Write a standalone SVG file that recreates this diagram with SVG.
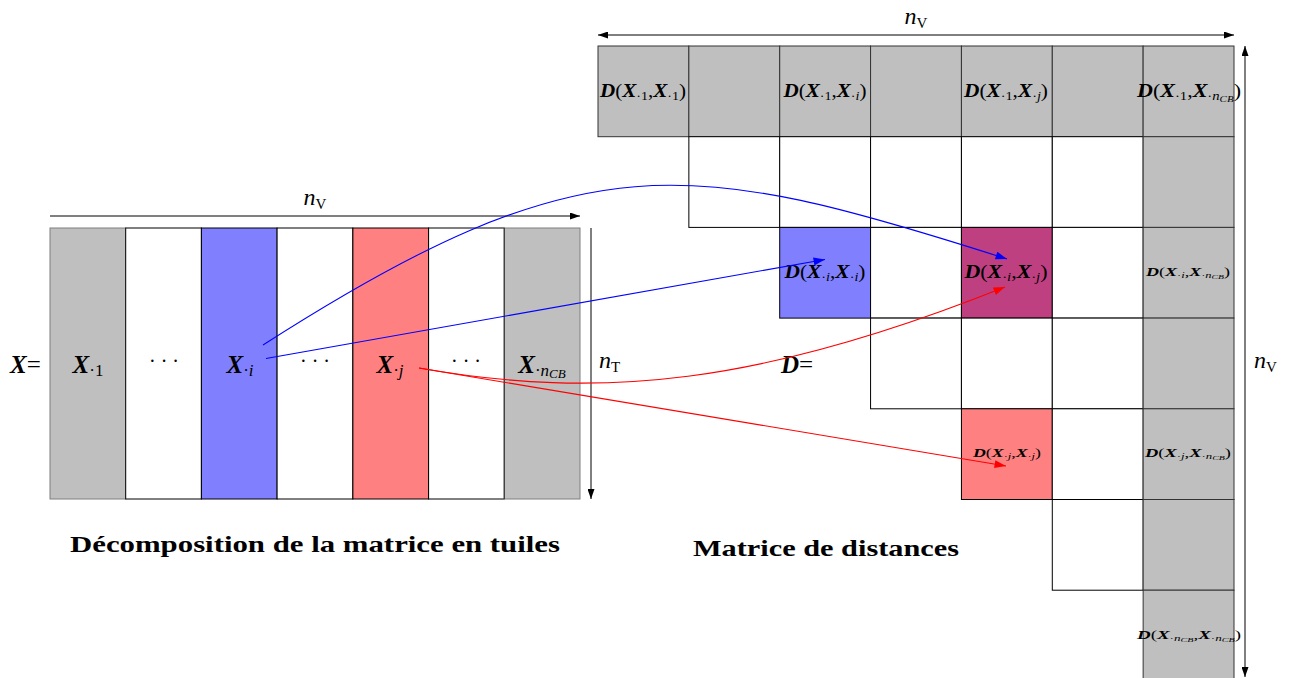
<svg xmlns="http://www.w3.org/2000/svg" width="1295" height="678" viewBox="0 0 1295 678">
<style>
text { font-family: "Liberation Serif", "DejaVu Serif", serif; fill: #000; }
.b { font-weight: bold; font-style: italic; }
.it { font-style: italic; }
.cap { font-weight: bold; font-size: 24px; }
.g { fill: #BFBFBF; stroke: #7f7f7f; stroke-width: 1; }
.w { fill: #FFFFFF; stroke: #000; stroke-width: 1; }
.bl { fill: #8080FF; stroke: #000; stroke-width: 1; }
.rd { fill: #FF8080; stroke: #000; stroke-width: 1; }
.pu { fill: #BF4080; stroke: #000; stroke-width: 1; }
.dg { fill: #BFBFBF; stroke: #333; stroke-width: 1; }
.dim { stroke: #000; stroke-width: 1; fill: none; }
.cb { stroke: #0000FF; stroke-width: 1.1; fill: none; }
.cr { stroke: #FF0000; stroke-width: 1.1; fill: none; }
</style>
<defs>
<marker id="ak" viewBox="0 0 10 7" refX="10" refY="3.5" markerUnits="userSpaceOnUse" markerWidth="10" markerHeight="7" orient="auto-start-reverse"><path d="M0,0 L10,3.5 L0,7 z" fill="#000"/></marker>
<marker id="ab" viewBox="0 0 10 7" refX="10" refY="3.5" markerUnits="userSpaceOnUse" markerWidth="12" markerHeight="8" orient="auto"><path d="M0,0 L10,3.5 L0,7 z" fill="#0000FF"/></marker>
<marker id="ar" viewBox="0 0 10 7" refX="10" refY="3.5" markerUnits="userSpaceOnUse" markerWidth="12" markerHeight="8" orient="auto"><path d="M0,0 L10,3.5 L0,7 z" fill="#FF0000"/></marker>
</defs>

<!-- Left matrix X -->
<g id="matrixX">
  <g id="X-col1"><rect class="g" x="50" y="228" width="75.7" height="271"/>
    <text x="88" y="373" font-size="25" text-anchor="middle"><tspan class="b">X</tspan><tspan font-size="17" dy="3">·1</tspan></text></g>
  <g id="X-dots1"><rect class="w" x="125.7" y="228" width="75.7" height="271"/>
    <text x="164" y="368" font-size="20" text-anchor="middle">· · ·</text></g>
  <g id="X-coli"><rect class="bl" x="201.4" y="228" width="75.7" height="271"/>
    <text x="240" y="373" font-size="25" text-anchor="middle"><tspan class="b">X</tspan><tspan font-size="17" dy="3">·<tspan class="it">i</tspan></tspan></text></g>
  <g id="X-dots2"><rect class="w" x="277.1" y="228" width="75.7" height="271"/>
    <text x="315" y="368" font-size="20" text-anchor="middle">· · ·</text></g>
  <g id="X-colj"><rect class="rd" x="352.9" y="228" width="75.7" height="271"/>
    <text x="390" y="373" font-size="25" text-anchor="middle"><tspan class="b">X</tspan><tspan font-size="17" dy="3">·<tspan class="it">j</tspan></tspan></text></g>
  <g id="X-dots3"><rect class="w" x="428.6" y="228" width="75.7" height="271"/>
    <text x="466" y="368" font-size="20" text-anchor="middle">· · ·</text></g>
  <g id="X-colncb"><rect class="g" x="504.3" y="228" width="75.7" height="271"/>
    <text x="542" y="373" font-size="25" text-anchor="middle"><tspan class="b">X</tspan><tspan font-size="17" dy="3">·<tspan class="it">n<tspan font-size="13" dy="2">CB</tspan></tspan></tspan></text></g>
  <line x1="504.3" y1="228" x2="504.3" y2="499" stroke="#333"/>
  <g id="X-label"><text x="10" y="373" font-size="25"><tspan class="b">X</tspan>=</text></g>
</g>

<!-- Dimension markers for X -->
<g id="dimX">
  <line class="dim" x1="50" y1="216" x2="580" y2="216" marker-end="url(#ak)"/>
  <text x="315" y="205" font-size="24" text-anchor="middle"><tspan class="it">n</tspan><tspan font-size="15" dy="4">V</tspan></text>
  <line class="dim" x1="591" y1="228" x2="591" y2="499" marker-end="url(#ak)"/>
  <text x="599" y="368" font-size="24"><tspan class="it">n</tspan><tspan font-size="15" dy="4">T</tspan></text>
</g>

<!-- Distance matrix D -->
<g id="matrixD">
  <g id="D-row0">
    <rect class="dg" x="598" y="46" width="90.86" height="90.7"/>
    <rect class="dg" x="688.86" y="46" width="90.86" height="90.7"/>
    <rect class="dg" x="779.71" y="46" width="90.86" height="90.7"/>
    <rect class="dg" x="870.57" y="46" width="90.86" height="90.7"/>
    <rect class="dg" x="961.43" y="46" width="90.86" height="90.7"/>
    <rect class="dg" x="1052.29" y="46" width="90.86" height="90.7"/>
    <rect class="dg" x="1143.14" y="46" width="90.86" height="90.7"/>
  </g>
  <g id="D-row1">
    <rect class="w" x="688.86" y="136.7" width="90.86" height="90.7"/>
    <rect class="w" x="779.71" y="136.7" width="90.86" height="90.7"/>
    <rect class="w" x="870.57" y="136.7" width="90.86" height="90.7"/>
    <rect class="w" x="961.43" y="136.7" width="90.86" height="90.7"/>
    <rect class="w" x="1052.29" y="136.7" width="90.86" height="90.7"/>
    <rect class="dg" x="1143.14" y="136.7" width="90.86" height="90.7"/>
  </g>
  <g id="D-row2">
    <rect class="bl" x="779.71" y="227.4" width="90.86" height="90.7"/>
    <rect class="w" x="870.57" y="227.4" width="90.86" height="90.7"/>
    <rect class="pu" x="961.43" y="227.4" width="90.86" height="90.7"/>
    <rect class="w" x="1052.29" y="227.4" width="90.86" height="90.7"/>
    <rect class="dg" x="1143.14" y="227.4" width="90.86" height="90.7"/>
  </g>
  <g id="D-row3">
    <rect class="w" x="870.57" y="318.1" width="90.86" height="90.7"/>
    <rect class="w" x="961.43" y="318.1" width="90.86" height="90.7"/>
    <rect class="w" x="1052.29" y="318.1" width="90.86" height="90.7"/>
    <rect class="dg" x="1143.14" y="318.1" width="90.86" height="90.7"/>
  </g>
  <g id="D-row4">
    <rect class="rd" x="961.43" y="408.8" width="90.86" height="90.7"/>
    <rect class="w" x="1052.29" y="408.8" width="90.86" height="90.7"/>
    <rect class="dg" x="1143.14" y="408.8" width="90.86" height="90.7"/>
  </g>
  <g id="D-row5">
    <rect class="w" x="1052.29" y="499.5" width="90.86" height="90.7"/>
    <rect class="dg" x="1143.14" y="499.5" width="90.86" height="90.7"/>
  </g>
  <g id="D-row6">
    <rect class="dg" x="1143.14" y="590.2" width="90.86" height="90.7"/>
  </g>

  <g id="D-labels">
    <text x="643" y="97" font-size="18" text-anchor="middle" textLength="86" lengthAdjust="spacingAndGlyphs"><tspan class="b">D</tspan>(<tspan class="b">X</tspan><tspan font-size="12" dy="3">·1</tspan><tspan dy="-3">,</tspan><tspan class="b">X</tspan><tspan font-size="12" dy="3">·1</tspan><tspan dy="-3">)</tspan></text>
    <text x="825" y="97" font-size="18" text-anchor="middle" textLength="83" lengthAdjust="spacingAndGlyphs"><tspan class="b">D</tspan>(<tspan class="b">X</tspan><tspan font-size="12" dy="3">·1</tspan><tspan dy="-3">,</tspan><tspan class="b">X</tspan><tspan font-size="12" dy="3">·<tspan class="it">i</tspan></tspan><tspan dy="-3">)</tspan></text>
    <text x="1006" y="97" font-size="18" text-anchor="middle" textLength="84" lengthAdjust="spacingAndGlyphs"><tspan class="b">D</tspan>(<tspan class="b">X</tspan><tspan font-size="12" dy="3">·1</tspan><tspan dy="-3">,</tspan><tspan class="b">X</tspan><tspan font-size="12" dy="3">·<tspan class="it">j</tspan></tspan><tspan dy="-3">)</tspan></text>
    <text x="1189" y="97" font-size="18" text-anchor="middle" textLength="104" lengthAdjust="spacingAndGlyphs"><tspan class="b">D</tspan>(<tspan class="b">X</tspan><tspan font-size="12" dy="3">·1</tspan><tspan dy="-3">,</tspan><tspan class="b">X</tspan><tspan font-size="12" dy="3">·<tspan class="it">n</tspan><tspan class="it" font-size="9" dy="1.5">CB</tspan></tspan><tspan dy="-4.5">)</tspan></text>

    <text x="825" y="278" font-size="18" text-anchor="middle" textLength="81" lengthAdjust="spacingAndGlyphs"><tspan class="b">D</tspan>(<tspan class="b">X</tspan><tspan font-size="12" dy="3">·<tspan class="it">i</tspan></tspan><tspan dy="-3">,</tspan><tspan class="b">X</tspan><tspan font-size="12" dy="3">·<tspan class="it">i</tspan></tspan><tspan dy="-3">)</tspan></text>
    <text x="1006" y="278" font-size="18" text-anchor="middle" textLength="83" lengthAdjust="spacingAndGlyphs"><tspan class="b">D</tspan>(<tspan class="b">X</tspan><tspan font-size="12" dy="3">·<tspan class="it">i</tspan></tspan><tspan dy="-3">,</tspan><tspan class="b">X</tspan><tspan font-size="12" dy="3">·<tspan class="it">j</tspan></tspan><tspan dy="-3">)</tspan></text>
    <text x="1188" y="276" font-size="13" text-anchor="middle" textLength="84" lengthAdjust="spacingAndGlyphs"><tspan class="b">D</tspan>(<tspan class="b">X</tspan><tspan font-size="9" dy="2">·<tspan class="it">i</tspan></tspan><tspan dy="-2">,</tspan><tspan class="b">X</tspan><tspan font-size="9" dy="2">·<tspan class="it">n</tspan><tspan class="it" font-size="7" dy="1">CB</tspan></tspan><tspan dy="-3">)</tspan></text>

    <text x="1007" y="457" font-size="13" text-anchor="middle" textLength="68" lengthAdjust="spacingAndGlyphs"><tspan class="b">D</tspan>(<tspan class="b">X</tspan><tspan font-size="9" dy="2">·<tspan class="it">j</tspan></tspan><tspan dy="-2">,</tspan><tspan class="b">X</tspan><tspan font-size="9" dy="2">·<tspan class="it">j</tspan></tspan><tspan dy="-2">)</tspan></text>
    <text x="1188" y="457" font-size="13" text-anchor="middle" textLength="86" lengthAdjust="spacingAndGlyphs"><tspan class="b">D</tspan>(<tspan class="b">X</tspan><tspan font-size="9" dy="2">·<tspan class="it">j</tspan></tspan><tspan dy="-2">,</tspan><tspan class="b">X</tspan><tspan font-size="9" dy="2">·<tspan class="it">n</tspan><tspan class="it" font-size="7" dy="1">CB</tspan></tspan><tspan dy="-3">)</tspan></text>

    <text x="1189" y="639" font-size="13" text-anchor="middle" textLength="104" lengthAdjust="spacingAndGlyphs"><tspan class="b">D</tspan>(<tspan class="b">X</tspan><tspan font-size="9" dy="2">·<tspan class="it">n</tspan><tspan class="it" font-size="7" dy="1">CB</tspan></tspan><tspan dy="-3">,</tspan><tspan class="b">X</tspan><tspan font-size="9" dy="2">·<tspan class="it">n</tspan><tspan class="it" font-size="7" dy="1">CB</tspan></tspan><tspan dy="-3">)</tspan></text>
  </g>
  <g id="D-label"><text x="781" y="373" font-size="25"><tspan class="b">D</tspan>=</text></g>
</g>

<!-- Dimension markers for D -->
<g id="dimD">
  <line class="dim" x1="598" y1="35" x2="1234" y2="35" marker-start="url(#ak)" marker-end="url(#ak)"/>
  <text x="916" y="24" font-size="24" text-anchor="middle"><tspan class="it">n</tspan><tspan font-size="15" dy="4">V</tspan></text>
  <line class="dim" x1="1245" y1="46" x2="1245" y2="677" marker-start="url(#ak)" marker-end="url(#ak)"/>
  <text x="1254" y="368" font-size="24"><tspan class="it">n</tspan><tspan font-size="15" dy="4">V</tspan></text>
</g>

<!-- Connectors -->
<g id="connectors">
  <path class="cb" d="M263,345 C583,140 687,156.6 1007,259" marker-end="url(#ab)"/>
  <path class="cb" d="M266,358.5 L825,259.5" marker-end="url(#ab)"/>
  <path class="cr" d="M419,368 C600,400 760,385 1005,287" marker-end="url(#ar)"/>
  <path class="cr" d="M419,368 L1006,466" marker-end="url(#ar)"/>
</g>

<!-- Captions -->
<g id="captions">
  <text class="cap" x="315" y="552" text-anchor="middle" textLength="490" lengthAdjust="spacingAndGlyphs">Décomposition de la matrice en tuiles</text>
  <text class="cap" x="826" y="556" text-anchor="middle" textLength="266" lengthAdjust="spacingAndGlyphs">Matrice de distances</text>
</g>
</svg>
